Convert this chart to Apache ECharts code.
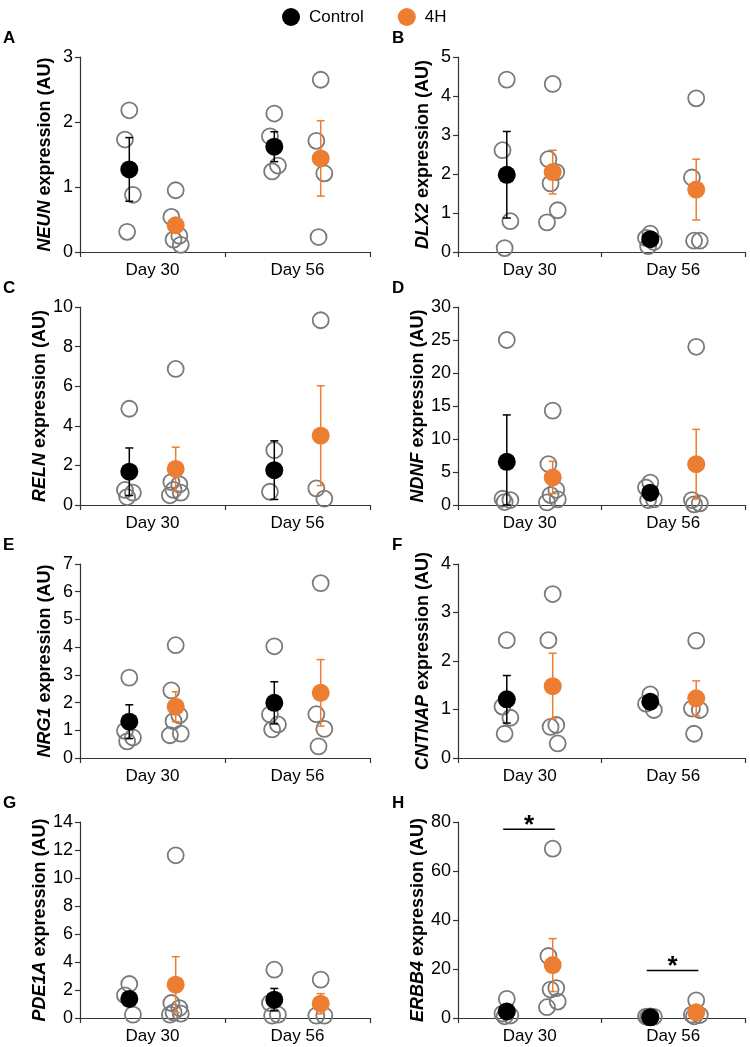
<!DOCTYPE html>
<html>
<head>
<meta charset="utf-8">
<script src="https://cdn.jsdelivr.net/npm/echarts@6/dist/echarts.min.js"></script>
<style>
html,body{margin:0;padding:0;background:#fff}
#chart{width:750px;height:1047px}
</style>
</head>
<body>
<div id="chart"></div>
<script>
// ---- data ----
var days = ['Day 30', 'Day 56'];
var groups = ['Control', '4H'];
var genes = ['NEUN', 'DLX2', 'RELN', 'NDNF', 'NRG1', 'CNTNAP', 'PDE1A', 'ERBB4'];
var letters = ['A', 'B', 'C', 'D', 'E', 'F', 'G', 'H'];
var yMax = [3, 5, 10, 30, 7, 4, 14, 80];
var yStep = [1, 1, 2, 5, 1, 1, 2, 20];

// individual animals, order: Control D30, 4H D30, Control D56, 4H D56
var neunPts = [[2.18, 1.73, 0.88, 0.31], [0.95, 0.54, 0.25, 0.19, 0.11], [2.13, 1.78, 1.33, 1.24], [2.65, 1.71, 1.21, 0.23]];
var dlx2Pts = [[4.42, 2.61, 0.79, 0.10], [4.31, 2.38, 2.05, 1.76, 1.07, 0.76], [0.47, 0.36, 0.26, 0.15], [3.94, 1.91, 0.29, 0.29]];
var relnPts = [[4.86, 0.76, 0.62, 0.40], [6.87, 1.16, 1.04, 0.76, 0.62, 0.49], [2.77, 0.67], [9.33, 0.84, 0.32]];
var ndnfPts = [[25.0, 0.95, 0.75, 0.45], [14.3, 6.2, 2.3, 1.5, 0.85, 0.4], [3.4, 2.65, 0.85, 0.75], [23.97, 0.75, 0.25, 0.1]];
var nrg1Pts = [[2.9, 0.98, 0.74, 0.6], [4.07, 2.44, 1.54, 1.33, 0.88, 0.82], [4.03, 1.57, 1.21, 1.03], [6.31, 1.58, 1.05, 0.42]];
var cntnapPts = [[2.43, 1.06, 0.83, 0.50], [3.38, 2.43, 0.68, 0.64, 0.30], [1.31, 1.12, 0.99], [2.42, 1.02, 0.99, 0.50]];
var pde1aPts = [[2.43, 1.62, 0.24], [11.62, 1.07, 0.71, 0.40, 0.31, 0.24], [3.45, 1.07, 0.24, 0.17], [2.74, 0.17, 0.17]];
var erbb4Pts = [[7.8, 1.8, 1.0, 0.7], [69.1, 25.3, 12.2, 11.6, 6.7, 4.4], [0.7, 0.6, 0.5, 0.4], [7.2, 1.4, 1.2, 0.7]];

var neunMean = [1.27, 0.41, 1.62, 1.44],  neunErr = [0.49, 0.07, 0.23, 0.58];
var dlx2Mean = [1.98, 2.05, 0.33, 1.60],  dlx2Err = [1.11, 0.56, 0.07, 0.78];
var relnMean = [1.68, 1.82, 1.76, 3.50],  relnErr = [1.20, 1.10, 1.48, 2.52];
var ndnfMean = [6.55, 4.17, 1.86, 6.18],  ndnfErr = [7.1, 2.45, 0.6, 5.28];
var nrg1Mean = [1.31, 1.85, 1.99, 2.35],  nrg1Err = [0.61, 0.54, 0.76, 1.2];
var cntnapMean = [1.21, 1.48, 1.16, 1.23], cntnapErr = [0.49, 0.68, 0.08, 0.36];
var pde1aMean = [1.36, 2.38, 1.31, 1.02], pde1aErr = [0.45, 2.0, 0.8, 0.72];
var erbb4Mean = [2.7, 21.6, 0.3, 2.3],    erbb4Err = [1.5, 10.8, 0.1, 1.4];

// significance bars (panel H): day index and height
var erbb4Sig = [[0, 77], [1, 19.4]];

var allPts = [neunPts, dlx2Pts, relnPts, ndnfPts, nrg1Pts, cntnapPts, pde1aPts, erbb4Pts];
var allMean = [neunMean, dlx2Mean, relnMean, ndnfMean, nrg1Mean, cntnapMean, pde1aMean, erbb4Mean];
var allErr = [neunErr, dlx2Err, relnErr, ndnfErr, nrg1Err, cntnapErr, pde1aErr, erbb4Err];
var allSig = [[], [], [], [], [], [], [], erbb4Sig];

// ---- layout / style ----
var FONT = '"Liberation Sans", Arial, Helvetica, sans-serif';
var ORANGE = '#ED7D31';
var GRAY = '#7A7A7A';
var AXIS = '#333';
var colLeft = [80, 458], colW = [290, 287];
var rowTop = [57, 307, 564, 822], rowH = [195, 198, 194, 196];
var jitter = [0.0, -0.06, 0.05, -0.03, 0.07, -0.08];

function groupX(d, g) { return 1 + 2 * d + (g ? 0.32 : -0.32); }

function errRender(params, api) {
  var x = api.value(0), lo = api.value(1), hi = api.value(2), g = api.value(3);
  var top = api.coord([x, hi]), bot = api.coord([x, lo]);
  var cap = 4;
  var st = { stroke: g ? ORANGE : '#000', lineWidth: 1.5 };
  return { type: 'group', children: [
    { type: 'line', shape: { x1: top[0], y1: top[1], x2: bot[0], y2: bot[1] }, style: st },
    { type: 'line', shape: { x1: top[0] - cap, y1: top[1], x2: top[0] + cap, y2: top[1] }, style: st },
    { type: 'line', shape: { x1: bot[0] - cap, y1: bot[1], x2: bot[0] + cap, y2: bot[1] }, style: st }
  ]};
}

function sigRender(params, api) {
  var d = api.value(0), y = api.value(1);
  var a = api.coord([1 + 2 * d - 0.37, y]), b = api.coord([1 + 2 * d + 0.35, y]);
  return { type: 'group', children: [
    { type: 'line', shape: { x1: a[0], y1: a[1], x2: b[0], y2: b[1] }, style: { stroke: '#000', lineWidth: 1.5 } },
    { type: 'text', style: { text: '*', x: (a[0] + b[0]) / 2, y: a[1] - 4, align: 'center', verticalAlign: 'middle',
      font: 'bold 26px ' + FONT, fill: '#000' } }
  ]};
}

var grid = [], xAxis = [], yAxis = [], series = [], title = [];

genes.forEach(function (gene, i) {
  var col = i % 2, row = Math.floor(i / 2);
  grid.push({ left: colLeft[col], top: rowTop[row], width: colW[col], height: rowH[row] });
  title.push({ text: letters[i], left: col ? 392 : 3, top: rowTop[row] - 27, padding: 0,
    textStyle: { fontSize: 17, fontWeight: 'bold', color: '#000', fontFamily: FONT } });

  xAxis.push({ type: 'category', gridIndex: i, data: days, boundaryGap: true,
    axisLine: { show: true, lineStyle: { color: AXIS, width: 1.2 } },
    axisTick: { show: true, length: 5, lineStyle: { color: AXIS, width: 1.2 } },
    axisLabel: { fontSize: 17, color: '#000', margin: 10, fontFamily: FONT },
    splitLine: { show: false } });
  xAxis.push({ type: 'value', gridIndex: i, min: 0, max: 4, show: false });

  yAxis.push({ type: 'value', gridIndex: i, min: 0, max: yMax[i], interval: yStep[i],
    name: '{g|' + gene + '} expression (AU)', nameLocation: 'middle', nameGap: 26,
    nameTextStyle: { fontSize: 18, fontWeight: 'bold', color: '#000', fontFamily: FONT,
      rich: { g: { fontSize: 18, fontWeight: 'bold', fontStyle: 'italic', color: '#000', fontFamily: FONT } } },
    axisLine: { show: true, lineStyle: { color: AXIS, width: 1.2 } },
    axisTick: { show: true, length: 5, lineStyle: { color: AXIS, width: 1.2 } },
    axisLabel: { fontSize: 18, color: '#000', margin: 7, fontFamily: FONT },
    splitLine: { show: false } });

  var xi = 2 * i + 1;
  var pts = [], errs = [], meanC = [], meanH = [];
  for (var d = 0; d < 2; d++) {
    for (var g = 0; g < 2; g++) {
      var k = d * 2 + g;
      allPts[i][k].forEach(function (v, j) {
        pts.push([groupX(d, g) + jitter[j % jitter.length], v]);
      });
      var m = allMean[i][k], e = allErr[i][k];
      errs.push([groupX(d, g), Math.max(0, m - e), m + e, g]);
      (g ? meanH : meanC).push([groupX(d, g), m]);
    }
  }

  series.push({ type: 'scatter', xAxisIndex: xi, yAxisIndex: i, data: pts, symbol: 'circle', symbolSize: 16, z: 3,
    itemStyle: { color: 'rgba(255,255,255,0)', borderColor: GRAY, borderWidth: 1.8, opacity: 1 }, silent: true });
  series.push({ type: 'custom', xAxisIndex: xi, yAxisIndex: i, data: errs, renderItem: errRender, z: 4, silent: true });
  series.push({ name: groups[0], type: 'scatter', xAxisIndex: xi, yAxisIndex: i, data: meanC, symbolSize: 18, z: 5,
    itemStyle: { color: '#000', opacity: 1 } });
  series.push({ name: groups[1], type: 'scatter', xAxisIndex: xi, yAxisIndex: i, data: meanH, symbolSize: 18, z: 5,
    itemStyle: { color: ORANGE, opacity: 1 } });
  if (allSig[i].length) {
    series.push({ type: 'custom', xAxisIndex: xi, yAxisIndex: i, data: allSig[i], renderItem: sigRender, z: 6, silent: true });
  }
});

var chart = echarts.init(document.getElementById('chart'), null, { renderer: 'canvas' });
chart.setOption({
  animation: false,
  textStyle: { fontFamily: FONT },
  title: title,
  legend: { data: groups, left: 277, top: 3, icon: 'circle', itemWidth: 18, itemHeight: 18, itemGap: 34,
    textStyle: { fontSize: 17, color: '#000', fontFamily: FONT, padding: [0, 0, 0, 4] } },
  grid: grid,
  xAxis: xAxis,
  yAxis: yAxis,
  series: series
});
</script>
</body>
</html>
